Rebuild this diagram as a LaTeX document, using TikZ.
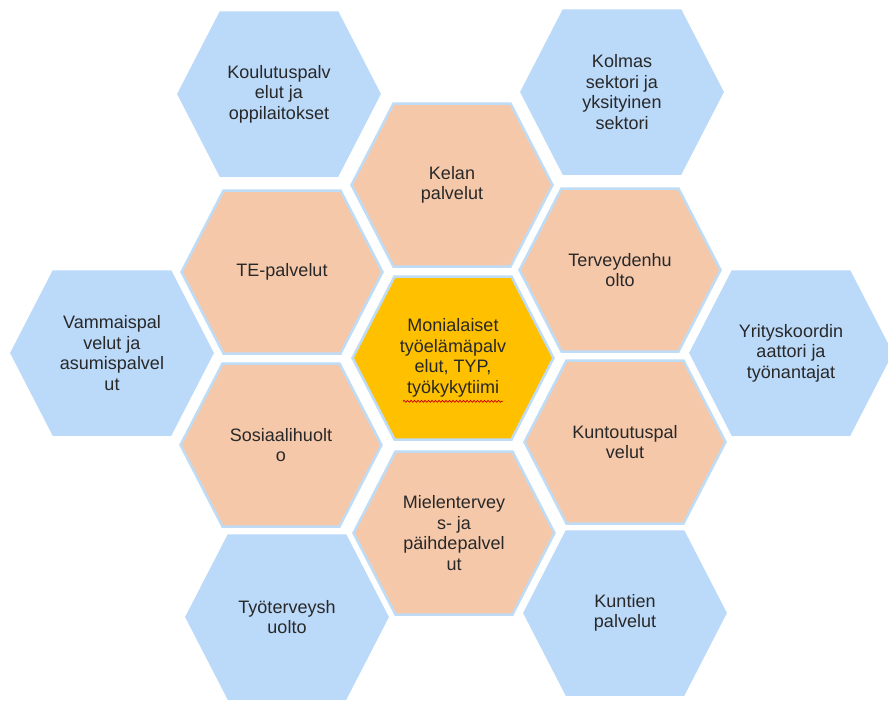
\documentclass[tikz,border=0pt]{standalone}
\usepackage{fontspec}
\setmainfont{Liberation Sans}
\usetikzlibrary{decorations.pathmorphing}
\definecolor{hexblue}{RGB}{187,217,249}
\definecolor{hexorange}{RGB}{245,200,170}
\definecolor{hexyellow}{RGB}{255,192,0}
\definecolor{hexline}{RGB}{190,220,246}
\definecolor{hextxt}{RGB}{40,40,40}
\tikzset{
  bluehex/.style={fill=hexblue, draw=hexblue, line width=2.5pt, line join=miter},
  orangehex/.style={fill=hexorange, draw=hexline, line width=2.5pt, line join=miter},
  yellowhex/.style={fill=hexyellow, draw=hexline, line width=2.5pt, line join=miter},
  hextext/.style={text=hextext, align=center, inner sep=0pt,
    font=\fontsize{18}{20.5}\selectfont},
}
\colorlet{hextext}{hextxt}
\newcommand\hexcell[5]{%
  \begin{scope}[shift={(#2,#3)}]
    \path[#4] (-100.5,0) -- (-58.5,-81.5) -- (58.5,-81.5) -- (100.5,0)
      -- (58.5,81.5) -- (-58.5,81.5) -- cycle;
    \node[hextext] (#1) at (0,0) {#5};
  \end{scope}}
\begin{document}
\begin{tikzpicture}[x=1pt,y=-1pt]
\useasboundingbox (0,0) rectangle (888,702);
\clip (0,0) rectangle (888,702);
\fill[white] (0,0) rectangle (888,702);
\hexcell{koulutus}{279}{94}{bluehex}{Koulutuspalv\\elut ja\\oppilaitokset}
\hexcell{kolmas}{622}{92}{bluehex}{Kolmas\\sektori ja\\yksityinen\\sektori}
\hexcell{kelan}{452}{185}{orangehex}{Kelan\\palvelut}
\hexcell{te}{282}{272}{orangehex}{TE-palvelut}
\hexcell{terv}{620}{270}{orangehex}{Terveydenhu\\olto}
\hexcell{vammais}{112}{353}{bluehex}{Vammaispal\\velut ja\\asumispalvel\\ut}
\hexcell{keski}{453}{358}{yellowhex}{Monialaiset\\työelämäpalv\\elut, TYP,\\työkykytiimi}
\hexcell{yritys}{791}{353}{bluehex}{Yrityskoordin\\aattori ja\\työnantajat}
\hexcell{sosiaali}{281}{445}{orangehex}{Sosiaalihuolt\\o}
\hexcell{kuntoutus}{625}{442}{orangehex}{Kuntoutuspal\\velut}
\hexcell{mielen}{454}{533}{orangehex}{Mielentervey\\s- ja\\päihdepalvel\\ut}
\hexcell{tyoterv}{287}{617}{bluehex}{Työterveysh\\uolto}
\hexcell{kuntien}{625}{613}{bluehex}{Kuntien\\palvelut}
\draw[red!80!black, line width=0.8pt, decorate,
  decoration={snake, amplitude=0.9pt, segment length=3.5pt}]
  ([xshift=-50pt,yshift=-4pt]keski.south) -- ([xshift=50pt,yshift=-4pt]keski.south);
\end{tikzpicture}
\end{document}
